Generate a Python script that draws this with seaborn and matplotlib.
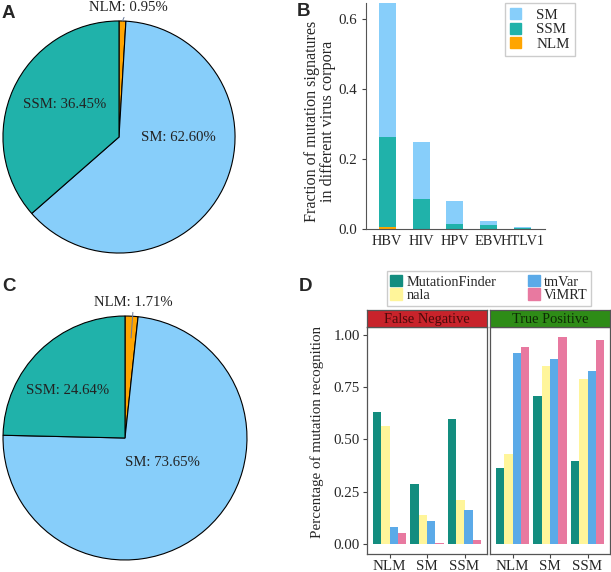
import numpy as np
import pandas as pd
import matplotlib
matplotlib.use("Agg")
import matplotlib.pyplot as plt
from matplotlib.patches import Patch
import seaborn as sns

# pies (A, C)
pie_labels = ["NLM", "SM", "SSM"]
pie_a = [0.95, 62.60, 36.45]
pie_c = [1.71, 73.65, 24.64]

# panel B, fraction per virus corpus
viruses = ["HBV", "HIV", "HPV", "EBV", "HTLV1"]
nlm_frac = [0.005, 0.001, 0.001, 0.0005, 0.0002]
ssm_frac = [0.257, 0.086, 0.014, 0.0105, 0.0028]
sm_frac = [0.386, 0.160, 0.064, 0.012, 0.004]

# panel D
sig_types = ["NLM", "SM", "SSM"]
tools = ["MutationFinder", "nala", "tmVar", "ViMRT"]
fn_mf = [0.632, 0.285, 0.600]
fn_nala = [0.563, 0.139, 0.208]
fn_tmvar = [0.078, 0.109, 0.163]
fn_vimrt = [0.051, 0.005, 0.016]
tp_mf = [0.363, 0.709, 0.395]
tp_nala = [0.432, 0.853, 0.788]
tp_tmvar = [0.917, 0.888, 0.829]
tp_vimrt = [0.944, 0.992, 0.979]

W, H = 611, 572
SM_COL, SSM_COL, NLM_COL = "#87CEFA", "#20B2AA", "#FFA500"
TOOL_COLS = ["#138D7F", "#FFF59A", "#5BAAE8", "#E879A0"]

sns.set_style("ticks")
plt.rcParams["font.family"] = ["Liberation Serif", "DejaVu Serif"]
plt.rcParams["font.size"] = 10.6


def box(x0, y0, x1, y1):
    # pixel box (top-left origin) -> figure fraction
    return [x0 / W, 1 - y1 / H, (x1 - x0) / W, (y1 - y0) / H]


fig = plt.figure(figsize=(W / 100, H / 100), dpi=100)


def draw_pie(rect, values, ssm_xy, sm_xy, nlm_xy, nlm_tip):
    ax = fig.add_axes(rect)
    ax.pie(values, colors=[NLM_COL, SM_COL, SSM_COL], startangle=90,
           counterclock=False, radius=1,
           wedgeprops=dict(edgecolor="black", linewidth=0.8))
    ax.set_xlim(-1.01, 1.01)
    ax.set_ylim(-1.01, 1.01)
    ax.axis("off")
    ax.text(*ssm_xy, f"SSM: {values[2]:.2f}%", ha="center", va="center", color="#222222")
    ax.text(*sm_xy, f"SM: {values[1]:.2f}%", ha="center", va="center", color="#222222")
    ax.annotate(f"NLM: {values[0]:.2f}%", xy=nlm_tip, xytext=nlm_xy,
                ha="center", va="center", color="#222222", annotation_clip=False,
                arrowprops=dict(arrowstyle="-", color="#6a7a9a", lw=0.7,
                                shrinkA=0, shrinkB=0))
    return ax


draw_pie(box(1.8, 19.8, 236.2, 254.2), pie_a,
         (-0.47, 0.28), (0.51, 0.0), (0.08, 1.115), (0.03, 1.0))
draw_pie(box(1.8, 314.8, 248.2, 561.2), pie_c,
         (-0.47, 0.39), (0.31, -0.20), (0.07, 1.11), (0.05, 0.82))

# panel B
axb = fig.add_axes(box(366, 3, 545, 229))
nlm = np.array(nlm_frac)
ssm_top = nlm + np.array(ssm_frac)
total = ssm_top + np.array(sm_frac)
for heights, col in [(total, SM_COL), (ssm_top, SSM_COL), (nlm, NLM_COL)]:
    sns.barplot(x=viruses, y=heights, color=col, width=0.5, saturation=1,
                linewidth=0, errorbar=None, ax=axb)
axb.set_ylim(0, 0.645)
axb.set_xlim(-0.62, 4.65)
axb.set_yticks([0, 0.2, 0.4, 0.6])
axb.set_yticklabels(["0.0", "0.2", "0.4", "0.6"])
axb.tick_params(axis="x", length=0, pad=4, labelsize=10.3)
axb.tick_params(axis="y", length=3, labelsize=10.8, color="#444444")
sns.despine(ax=axb)
for s in ["left", "bottom"]:
    axb.spines[s].set_color("#555555")
fig.text(320 / W, 1 - 121 / H, "Fraction of mutation signatures\nin different virus corpora",
         rotation=90, ha="center", va="center", fontsize=11.6, linespacing=1.0)
handles = [Patch(color=SM_COL, label="SM"), Patch(color=SSM_COL, label="SSM"),
           Patch(color=NLM_COL, label="NLM")]
fig.legend(handles=handles, loc="upper right", bbox_to_anchor=(575 / W, 1 - 3 / H),
           borderaxespad=0, fancybox=False, edgecolor="#cccccc", fontsize=10.8,
           handlelength=0.75, handleheight=0.75, labelspacing=0.05, handletextpad=1.0,
           borderpad=0.35, framealpha=1)

# panel D
panels = [
    ("False Negative", [fn_mf, fn_nala, fn_tmvar, fn_vimrt], "#C8232B", "#4a0a0a", 367, 487),
    ("True Positive", [tp_mf, tp_nala, tp_tmvar, tp_vimrt], "#2E8C17", "#0e2a05", 490, 610),
]
for i, (title, series, scol, tcol, x0, x1) in enumerate(panels):
    d = pd.DataFrame({
        "type": sig_types * len(tools),
        "tool": np.repeat(tools, len(sig_types)),
        "value": np.concatenate(series),
    })
    ax = fig.add_axes(box(x0, 327, x1, 554))
    sns.barplot(data=d, x="type", y="value", hue="tool", order=sig_types,
                hue_order=tools, palette=TOOL_COLS, width=0.9, saturation=1,
                linewidth=0, errorbar=None, legend=False, ax=ax)
    ax.set_xlim(-0.6, 2.6)
    ax.set_ylim(-0.05, 1.04)
    ax.set_xlabel("")
    ax.set_ylabel("")
    for s in ax.spines.values():
        s.set_color("#555555")
        s.set_linewidth(0.9)
    ax.tick_params(axis="x", length=3, color="#444444", labelsize=10.8, pad=1)
    if i == 0:
        ax.set_yticks([0, 0.25, 0.5, 0.75, 1.0])
        ax.set_yticklabels(["0.00", "0.25", "0.50", "0.75", "1.00"])
        ax.tick_params(axis="y", length=3, color="#444444", labelsize=10.8, pad=2)
    else:
        ax.set_yticks([])
    strip = fig.add_axes(box(x0, 310, x1, 327))
    strip.set_facecolor(scol)
    strip.set_xticks([])
    strip.set_yticks([])
    for s in strip.spines.values():
        s.set_color("#555555")
        s.set_linewidth(0.9)
    strip.text(0.5, 0.45, title, ha="center", va="center", color=tcol,
               fontsize=10.4, transform=strip.transAxes)

fig.text(317 / W, 1 - 432 / H, "Percentage of mutation recognition",
         rotation=90, ha="center", va="center", fontsize=10.8)

tool_handles = [Patch(color=c, label=t) for t, c in zip(tools, TOOL_COLS)]
fig.legend(handles=tool_handles, loc="center", ncol=2,
           bbox_to_anchor=(489 / W, 1 - 288.5 / H), fancybox=False,
           edgecolor="#cccccc", fontsize=10.4, handlelength=0.8, handleheight=0.8,
           labelspacing=0.0, handletextpad=0.3, columnspacing=2.2,
           borderpad=0.25, framealpha=1)

# panel letters
for letter, x, y in [("A", 2, 5), ("B", 297, 3), ("C", 2, 278), ("D", 299, 278)]:
    fig.text(x / W, 1 - y / H, letter, family="Liberation Sans", weight="bold",
             fontsize=13.5, ha="left", va="top")

fig.savefig("out.png", dpi=100)
